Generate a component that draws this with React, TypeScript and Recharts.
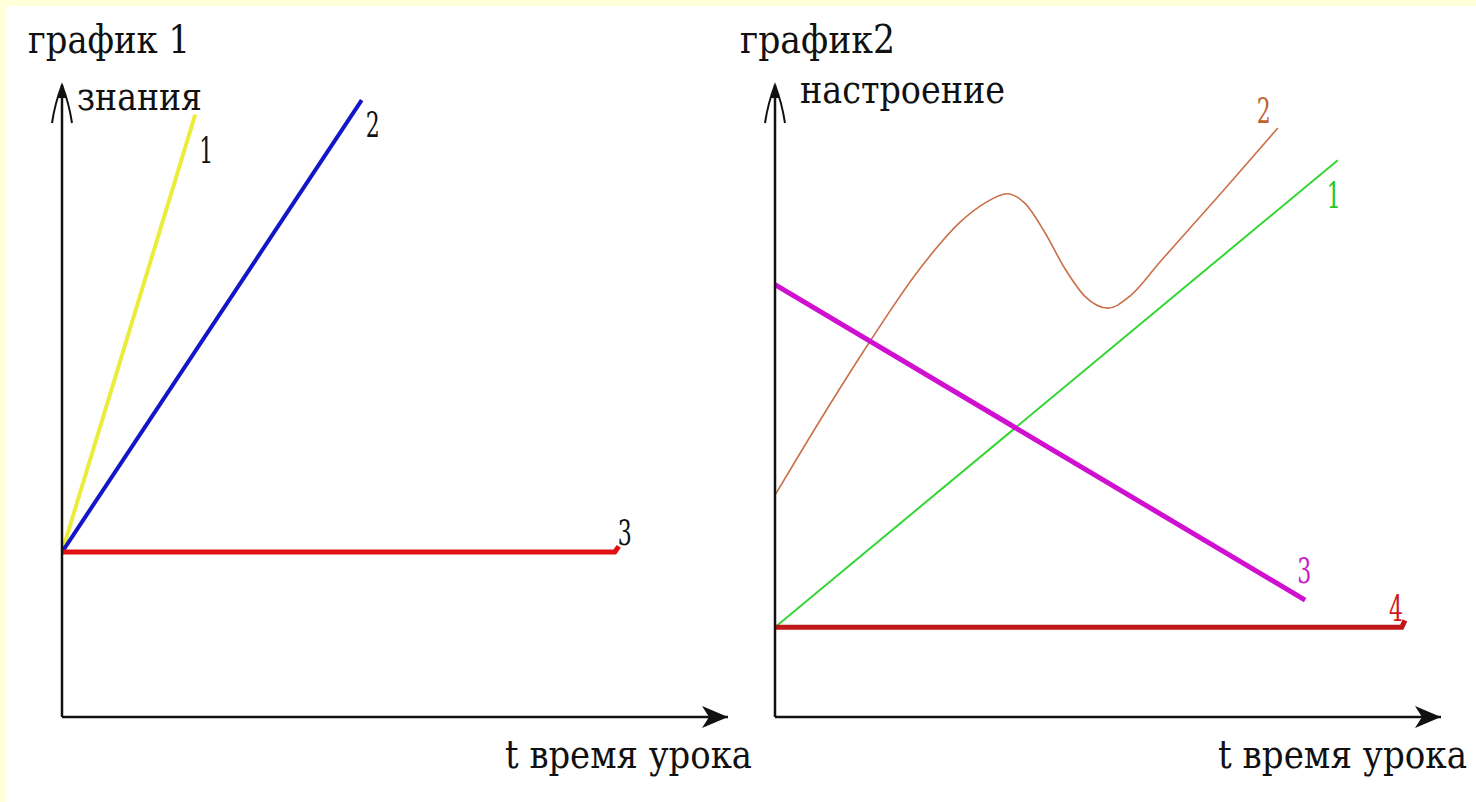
import React from "react";
import { LineChart, Line, XAxis, YAxis, Label, LabelList } from "recharts";

// ---- Data (t = lesson time, 0..100; v = value, 0..100) ----
// График 1: знания
const knowledge1 = [ { t: 0, v: 26.1 }, { t: 20.0, v: 95.3 } ];
const knowledge2 = [ { t: 0, v: 26.1 }, { t: 45.0, v: 97.6 } ];
const knowledge3 = [ { t: 0, v: 26.1 }, { t: 83.0, v: 26.1 }, { t: 83.6, v: 27.0 } ];

// График 2: настроение
const mood1 = [ { t: 0, v: 14.2 }, { t: 84.5, v: 88.1 } ];
const mood2 = [
  { t: 0, v: 35.1 }, { t: 6.8, v: 47.0 }, { t: 14.3, v: 59.5 }, { t: 21.8, v: 71.0 },
  { t: 27.8, v: 78.3 }, { t: 31.5, v: 81.3 }, { t: 34.8, v: 82.8 }, { t: 37.5, v: 81.3 },
  { t: 40.5, v: 76.7 }, { t: 43.5, v: 71.0 }, { t: 46.5, v: 66.6 }, { t: 50.0, v: 64.7 },
  { t: 53.3, v: 66.6 }, { t: 57.8, v: 72.0 }, { t: 67.0, v: 82.9 }, { t: 75.5, v: 93.2 },
];
const mood3 = [ { t: 0, v: 68.4 }, { t: 79.6, v: 18.5 } ];
const mood4 = [ { t: 0, v: 14.2 }, { t: 94.1, v: 14.2 }, { t: 94.6, v: 15.3 } ];

const titles = ["график 1", "график2"];
const yNames = ["знания", "настроение"];
const xName = "t время урока";
const seriesNames1 = ["1", "2", "3"];
const seriesNames2 = ["1", "2", "3", "4"];

const FONT = "'DejaVu Serif', 'Liberation Serif', serif";

const endLabel = (text: string, last: number, dx: number, dy: number, color: string) => (p: any) => {
  if (p.index !== last) return null;
  const x = p.x ?? p.viewBox?.x;
  const y = p.y ?? p.viewBox?.y;
  if (x == null || y == null) return null;
  return (
    <text x={x + dx} y={y + dy} fill={color} fontFamily={FONT} fontSize={36} textLength={14} lengthAdjust="spacingAndGlyphs">
      {text}
    </text>
  );
};

const txt = (s: string, x: number, y: number, len: number, size = 38, sy = 1) => () => (
  <text
    x={0}
    y={0}
    transform={`translate(${x},${y}) scale(1,${sy})`}
    fill="#111"
    fontFamily={FONT}
    fontSize={size}
    textLength={len}
    lengthAdjust="spacingAndGlyphs"
  >
    {s}
  </text>
);

const axisY = { stroke: "#111", strokeWidth: 2.5, markerStart: "url(#arrY)" } as any;
const axisX = { stroke: "#111", strokeWidth: 2.5, markerEnd: "url(#arrX)" } as any;

export default function App() {
  return (
    <div style={{ position: "absolute", left: 0, top: 0, width: 1476, height: 802, background: "#FFFFD8", overflow: "hidden" }}>
      <div style={{ position: "absolute", left: 6, top: 6, width: 1470, height: 796, background: "#ffffff" }} />
      <svg width={0} height={0} style={{ position: "absolute" }}>
        <defs>
          <marker id="arrX" markerUnits="userSpaceOnUse" markerWidth={30} markerHeight={26} refX={28} refY={12} orient="auto">
            <path d="M2,1 L28,12 L2,23 L9,12 Z" fill="#111" />
          </marker>
          <marker id="arrY" markerUnits="userSpaceOnUse" markerWidth={44} markerHeight={24} refX={40} refY={11} orient="auto-start-reverse">
            <path d="M2,1 Q22,4 40,11 Q22,18 2,21" fill="none" stroke="#111" strokeWidth={2} />
            <path d="M27,7 L40,11 L27,15 Z" fill="#111" />
          </marker>
        </defs>
      </svg>

      <div style={{ position: "absolute", left: 0, top: 0 }}>
        <LineChart width={770} height={802} margin={{ top: 85, left: 61, right: 42, bottom: 84 }}>
          <XAxis type="number" dataKey="t" domain={[0, 100]} allowDataOverflow tick={false} tickLine={false} height={1} axisLine={axisX}>
            <Label content={txt(xName, 505, 768, 247, 33, 1.18)} />
          </XAxis>
          <YAxis type="number" dataKey="v" domain={[0, 100]} allowDataOverflow tick={false} tickLine={false} width={1} axisLine={axisY}>
            <Label content={txt(titles[0], 28, 53, 162, 36, 1.08)} />
            <Label content={txt(yNames[0], 77, 110, 125, 36, 1.08)} />
          </YAxis>
          <Line data={knowledge1} dataKey="v" type="linear" stroke="#ECEC3C" strokeWidth={4} dot={false} activeDot={false} isAnimationActive={false}>
            <LabelList dataKey="v" content={endLabel(seriesNames1[0], knowledge1.length - 1, 4, 48, "#111")} />
          </Line>
          <Line data={knowledge2} dataKey="v" type="linear" stroke="#1515C8" strokeWidth={4} dot={false} activeDot={false} isAnimationActive={false}>
            <LabelList dataKey="v" content={endLabel(seriesNames1[1], knowledge2.length - 1, 4, 37, "#111")} />
          </Line>
          <Line data={knowledge3} dataKey="v" type="linear" stroke="#E01010" strokeWidth={5} dot={false} activeDot={false} isAnimationActive={false}>
            <LabelList dataKey="v" content={endLabel(seriesNames1[2], knowledge3.length - 1, -1, -1, "#111")} />
          </Line>
        </LineChart>
      </div>

      <div style={{ position: "absolute", left: 713, top: 0 }}>
        <LineChart width={763} height={802} margin={{ top: 85, left: 61, right: 35, bottom: 84 }}>
          <XAxis type="number" dataKey="t" domain={[0, 100]} allowDataOverflow tick={false} tickLine={false} height={1} axisLine={axisX}>
            <Label content={txt(xName, 505, 768, 249, 33, 1.18)} />
          </XAxis>
          <YAxis type="number" dataKey="v" domain={[0, 100]} allowDataOverflow tick={false} tickLine={false} width={1} axisLine={axisY}>
            <Label content={txt(titles[1], 27, 53, 155, 36, 1.08)} />
            <Label content={txt(yNames[1], 87, 103, 205, 36, 1.08)} />
          </YAxis>
          <Line data={mood1} dataKey="v" type="linear" stroke="#33D633" strokeWidth={2} dot={false} activeDot={false} isAnimationActive={false}>
            <LabelList dataKey="v" content={endLabel(seriesNames2[0], mood1.length - 1, -11, 48, "#22C822")} />
          </Line>
          <Line data={mood2} dataKey="v" type="monotone" stroke="#C8704A" strokeWidth={1.6} dot={false} activeDot={false} isAnimationActive={false}>
            <LabelList dataKey="v" content={endLabel(seriesNames2[1], mood2.length - 1, -21, -5, "#C0602E")} />
          </Line>
          <Line data={mood3} dataKey="v" type="linear" stroke="#D010D0" strokeWidth={5} dot={false} activeDot={false} isAnimationActive={false}>
            <LabelList dataKey="v" content={endLabel(seriesNames2[2], mood3.length - 1, -8, -17, "#C820C8")} />
          </Line>
          <Line data={mood4} dataKey="v" type="linear" stroke="#C01818" strokeWidth={5} dot={false} activeDot={false} isAnimationActive={false}>
            <LabelList dataKey="v" content={endLabel(seriesNames2[3], mood4.length - 1, -16, 1, "#D01818")} />
          </Line>
        </LineChart>
      </div>
    </div>
  );
}
